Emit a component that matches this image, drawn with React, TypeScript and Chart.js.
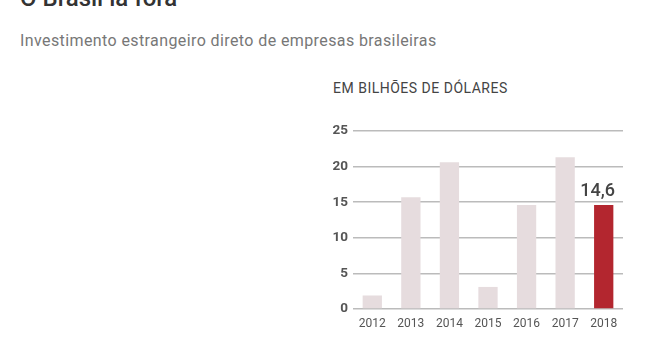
import React, { useEffect, useRef } from "react";
import { Chart, registerables } from "chart.js";

Chart.register(...registerables);

const categories = ["2012", "2013", "2014", "2015", "2016", "2017", "2018"];
const values = [1.9, 15.7, 20.6, 3.1, 14.6, 21.3, 14.6];
const yTicks = [0, 5, 10, 15, 20, 25];
const highlightLabel = "14,6";

const FONT = "Roboto, 'Noto Sans', sans-serif";

export default function App() {
  const ref = useRef<HTMLCanvasElement | null>(null);

  useEffect(() => {
    document.body.style.margin = "0";
    const canvas = ref.current!;
    const valueLabel = {
      id: "valueLabel",
      afterDatasetsDraw(chart: any) {
        const meta = chart.getDatasetMeta(0);
        const last = meta.data[meta.data.length - 1];
        const ctx = chart.ctx;
        ctx.save();
        ctx.font = `500 18px ${FONT}`;
        ctx.fillStyle = "#444";
        ctx.textAlign = "center";
        ctx.textBaseline = "alphabetic";
        ctx.fillText(highlightLabel, last.x - 6, last.y - 9);
        ctx.restore();
      },
    };
    const chart = new Chart(canvas, {
      type: "bar",
      data: {
        labels: categories,
        datasets: [
          {
            data: values,
            backgroundColor: values.map((_, i) =>
              i === values.length - 1 ? "#b3262f" : "#e6dcde"
            ),
            barPercentage: 0.5,
            categoryPercentage: 1,
          },
        ],
      },
      options: {
        animation: false,
        responsive: false,
        layout: { padding: { left: 318, right: 28, top: 131, bottom: 0 } },
        plugins: { legend: { display: false }, tooltip: { enabled: false } },
        scales: {
          x: {
            grid: { display: false },
            border: { display: false },
            ticks: {
              color: "#555",
              font: { family: FONT, size: 12 },
              padding: 0,
            },
            afterFit(scale: any) {
              scale.height = 41;
            },
          },
          y: {
            min: 0,
            max: 25,
            afterBuildTicks(scale: any) {
              scale.ticks = yTicks.map((v) => ({ value: v }));
            },
            grid: { color: "#bbbbbb", lineWidth: 1.5, drawTicks: false },
            border: { display: false },
            ticks: {
              color: "#555",
              font: { family: FONT, size: 13.5, weight: "bold" },
              padding: 5,
            },
            afterFit(scale: any) {
              scale.width = 35;
            },
          },
        },
      },
      plugins: [valueLabel],
    });
    return () => chart.destroy();
  }, []);

  return (
    <div style={{ position: "relative", width: 651, height: 350, overflow: "hidden", fontFamily: FONT }}>
      <div style={{ position: "absolute", left: 20, top: -16, fontSize: 24, color: "#333", fontWeight: 500, whiteSpace: "nowrap" }}>
        O Brasil lá fora
      </div>
      <div style={{ position: "absolute", left: 20, top: 31, fontSize: 16, letterSpacing: 0.4, color: "#777", whiteSpace: "nowrap" }}>
        Investimento estrangeiro direto de empresas brasileiras
      </div>
      <div style={{ position: "absolute", left: 333, top: 80, fontSize: 14, letterSpacing: 0.5, color: "#444", whiteSpace: "nowrap" }}>
        EM BILHÕES DE DÓLARES
      </div>
      <canvas ref={ref} width={651} height={350} style={{ position: "absolute", left: 0, top: 0 }} />
    </div>
  );
}
